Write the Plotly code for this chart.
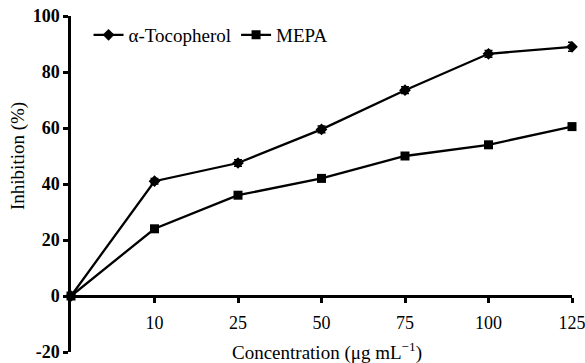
import plotly.graph_objects as go

conc_labels = ["0", "10", "25", "50", "75", "100", "125"]
tocopherol = [0, 41, 47.5, 59.5, 73.5, 86.5, 89]
tocopherol_err = [0.8, 1.0, 1.2, 1.2, 1.2, 1.2, 1.6]
mepa = [0, 24, 36, 42, 50, 54, 60.5]
mepa_err = [0.8, 1.0, 1.0, 1.0, 1.0, 1.0, 1.0]
y_ticks = [-20, 0, 20, 40, 60, 80, 100]
y_tick_labels = ["-20", "0", "20", "40", "60", "80", "100"]

xpos = list(range(len(conc_labels)))
FONT = "Liberation Serif"

fig = go.Figure()
fig.add_trace(go.Scatter(
    x=xpos, y=tocopherol, name="α-Tocopherol", mode="lines+markers",
    line=dict(color="black", width=2.3),
    marker=dict(symbol="diamond", size=9, color="black"),
    error_y=dict(type="data", array=tocopherol_err, color="black", thickness=1.5, width=4),
    cliponaxis=False,
))
fig.add_trace(go.Scatter(
    x=xpos, y=mepa, name="MEPA", mode="lines+markers",
    line=dict(color="black", width=2.3),
    marker=dict(symbol="square", size=9, color="black"),
    error_y=dict(type="data", array=mepa_err, color="black", thickness=1.5, width=4),
    cliponaxis=False,
))

ymin, ymax = -20, 100
fig.update_layout(
    width=585, height=363,
    margin=dict(l=71, r=13, t=16, b=11),
    paper_bgcolor="white", plot_bgcolor="white",
    font=dict(family=FONT, size=18, color="black"),
    showlegend=True,
    legend=dict(orientation="h", x=0.035, y=1.0, xanchor="left", yanchor="top",
                font=dict(family=FONT, size=19, color="black"),
                bgcolor="rgba(0,0,0,0)", itemwidth=30, tracegroupgap=0),
    xaxis=dict(
        range=[0, len(conc_labels) - 1],
        tickvals=xpos[1:], ticktext=conc_labels[1:],
        showgrid=False, zeroline=False, automargin=False,
        showline=True, linecolor="black", linewidth=2.5,
        ticks="outside", ticklen=5, tickwidth=2.5, tickcolor="black",
        anchor="free", position=(0 - ymin) / (ymax - ymin),
        ticklabelstandoff=5, ticklabeloverflow="allow",
        tickfont=dict(family=FONT, size=18, color="black"),
    ),
    yaxis=dict(
        range=[ymin, ymax], tickvals=y_ticks, ticktext=y_tick_labels,
        showgrid=False, zeroline=False, automargin=False,
        showline=True, linecolor="black", linewidth=2.5,
        ticks="outside", ticklen=5, tickwidth=2.5, tickcolor="black",
        ticklabeloverflow="allow",
        tickfont=dict(family=FONT, size=18, color="black", weight="bold"),
    ),
)
fig.add_annotation(
    text="Concentration (μg mL<sup>−1</sup>)", xref="paper", yref="paper",
    x=(327 - 71) / 501, y=(352 - 351) / 336, xanchor="center", yanchor="middle",
    showarrow=False, font=dict(family=FONT, size=19, color="black"),
)
fig.add_annotation(
    text="Inhibition (%)", xref="paper", yref="paper", textangle=-90,
    x=(18 - 71) / 501, y=(352 - 156) / 336, xanchor="center", yanchor="middle",
    showarrow=False, font=dict(family=FONT, size=19, color="black"),
)
fig.write_html("out.html", config={"displayModeBar": False},
               post_script="document.body.style.margin='0';document.body.style.overflow='hidden';")
